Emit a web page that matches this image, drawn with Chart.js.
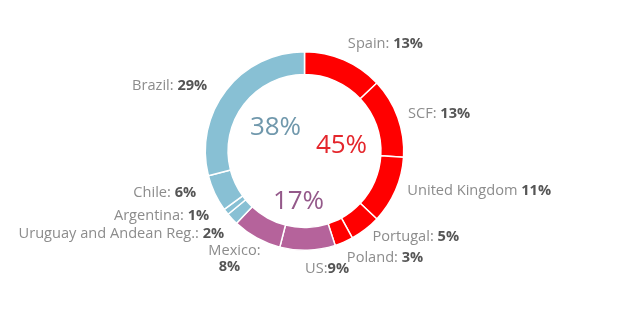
<!DOCTYPE html>
<html>
<head>
<meta charset="utf-8">
<script src="https://cdn.jsdelivr.net/npm/chart.js@4"></script>
<style>
  html, body { margin: 0; padding: 0; background: #fff; }
  #wrap { position: relative; width: 627px; height: 320px; }
</style>
</head>
<body>
<div id="wrap"><canvas id="c" width="627" height="320"></canvas></div>
<script>
// data, clockwise from 12 o'clock
const countries = ['Spain', 'SCF', 'United Kingdom', 'Portugal', 'Poland', 'US', 'Mexico',
  'Uruguay and Andean Reg.', 'Argentina', 'Chile', 'Brazil'];
const shares = [13, 13, 11, 5, 3, 9, 8, 2, 1, 6, 29];
const regionOf = ['europe', 'europe', 'europe', 'europe', 'europe', 'north', 'north',
  'south', 'south', 'south', 'south'];
const regions = ['europe', 'north', 'south'];

// styling
const regionColor = { europe: '#ff0000', north: '#b5639b', south: '#88c0d4' };
const regionTextColor = { europe: '#e4262c', north: '#94598a', south: '#7098ac' };
const regionTextPos = { europe: [37, -5], north: [-6, 51], south: [-29, -23] };
// label nudges (dx, dy) from the radial anchor
const labelNudge = [[-2, -2], [-4, 2], [-2, -6], [-2, -4], [-3, 2], [-3, 4], [-15, 8],
  [3, 5], [-5, -5], [-5, -7], [-7, 5]];
const labelSep = [': ', ': ', ' ', ': ', ': ', ':', ':\n', ': ', ': ', ': ', ': '];
const labelFont = '14.6px "Open Sans"';
const valueFont = 'bold 14.6px "Open Sans"';

const regionTotals = regions.map(r =>
  shares.reduce((s, v, i) => s + (regionOf[i] === r ? v : 0), 0));

const labelsPlugin = {
  id: 'outLabels',
  afterDraw(chart) {
    const ctx = chart.ctx;
    const arcs = chart.getDatasetMeta(0).data;
    ctx.save();
    ctx.textBaseline = 'middle';
    arcs.forEach((arc, i) => {
      const mid = (arc.startAngle + arc.endAngle) / 2;
      const r = arc.outerRadius + 15;
      const x = arc.x + Math.cos(mid) * r + labelNudge[i][0];
      const y = arc.y + Math.sin(mid) * r + labelNudge[i][1];
      const name = countries[i] + labelSep[i].replace('\n', '');
      const val = shares[i] + '%';
      const right = Math.cos(mid) < -0.1;
      if (labelSep[i].includes('\n')) {
        ctx.font = labelFont;
        ctx.textAlign = 'center';
        ctx.fillStyle = '#8c8c8c';
        ctx.fillText(name, x, y - 8);
        ctx.font = valueFont;
        ctx.fillStyle = '#555';
        ctx.fillText(val, x - 5, y + 8);
        return;
      }
      ctx.font = labelFont;
      const wn = ctx.measureText(name).width;
      ctx.font = valueFont;
      const wv = ctx.measureText(val).width;
      const x0 = right ? x - wn - wv : x;
      ctx.textAlign = 'left';
      ctx.font = labelFont;
      ctx.fillStyle = '#8c8c8c';
      ctx.fillText(name, x0, y);
      ctx.font = valueFont;
      ctx.fillStyle = '#555';
      ctx.fillText(val, x0 + wn, y);
    });
    // region totals in the hole
    const a0 = arcs[0];
    ctx.textAlign = 'center';
    ctx.font = '26px "Open Sans"';
    regions.forEach((r, k) => {
      ctx.fillStyle = regionTextColor[r];
      ctx.fillText(regionTotals[k] + '%', a0.x + regionTextPos[r][0], a0.y + regionTextPos[r][1]);
    });
    ctx.restore();
  }
};

new Chart(document.getElementById('c'), {
  type: 'doughnut',
  data: {
    labels: countries,
    datasets: [{
      data: shares,
      backgroundColor: regionOf.map(r => regionColor[r]),
      borderColor: '#fff',
      borderWidth: 1.5
    }]
  },
  options: {
    responsive: false,
    animation: false,
    cutout: '77%',
    layout: { padding: { left: 204, right: 222, top: 51, bottom: 69 } },
    plugins: { legend: { display: false }, tooltip: { enabled: false } }
  },
  plugins: [labelsPlugin]
});
</script>
</body>
</html>
